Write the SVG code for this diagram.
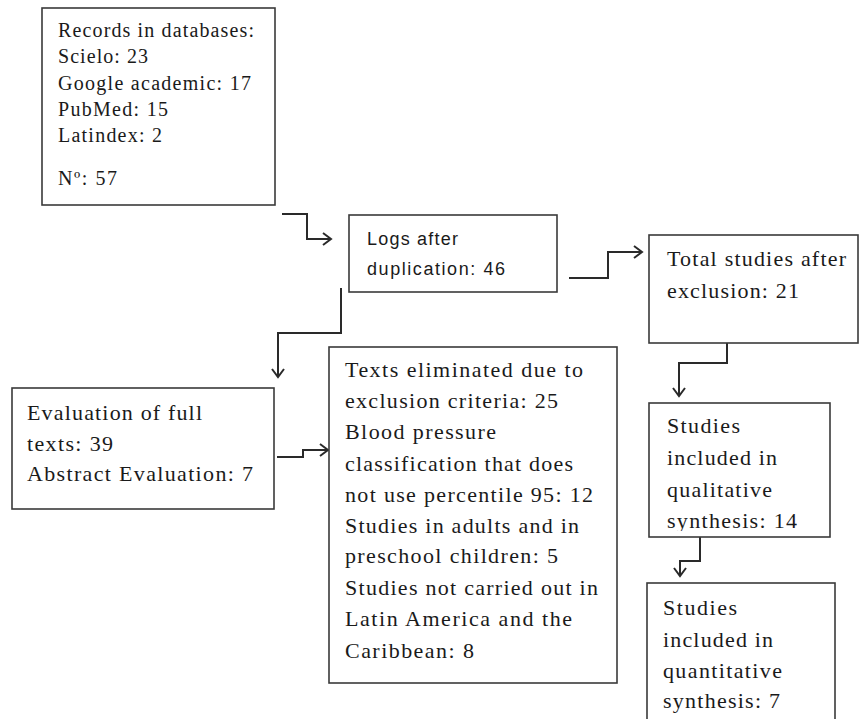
<svg xmlns="http://www.w3.org/2000/svg" width="866" height="719" viewBox="0 0 866 719">
<style>
.box{fill:#fff;stroke:#3a3a3a;stroke-width:1.6}
.c{fill:none;stroke:#2a2a2a;stroke-width:2}
</style>
<defs>
<marker id="arr" markerUnits="userSpaceOnUse" markerWidth="14" markerHeight="16" refX="9" refY="7" orient="auto">
<path d="M1,1 L9,7 L1,13" fill="none" stroke="#2a2a2a" stroke-width="2"/>
</marker>
<clipPath id="clipQ"><rect x="640" y="400" width="200" height="131"/></clipPath>
</defs>
<rect width="866" height="719" fill="#fff"/>
<g id="connectors">
<path class="c" d="M282,214 H307 V239 H331" marker-end="url(#arr)"/>
<path class="c" d="M569,278 H608 V252 H642" marker-end="url(#arr)"/>
<path class="c" d="M341,288 V333 H278 V377" marker-end="url(#arr)"/>
<path class="c" d="M277,457 H303 V450 H328" marker-end="url(#arr)"/>
<path class="c" d="M727,343 V363 H679 V396" marker-end="url(#arr)"/>
<path class="c" d="M700,537 V561 H680 V576" marker-end="url(#arr)"/>
</g>
<g font-family="Liberation Serif, Times New Roman, serif" font-size="22" fill="#1a1a1a" lengthAdjust="spacing">
<g id="records" font-size="20">
<rect class="box" x="42" y="8" width="233" height="197"/>
<text x="58" y="37" textLength="196" lengthAdjust="spacing">Records in databases:</text>
<text x="58" y="63" textLength="90" lengthAdjust="spacing">Scielo: 23</text>
<text x="58" y="90" textLength="193" lengthAdjust="spacing">Google academic: 17</text>
<text x="58" y="116" textLength="110" lengthAdjust="spacing">PubMed: 15</text>
<text x="58" y="142" textLength="104" lengthAdjust="spacing">Latindex: 2</text>
<text x="58" y="185" textLength="59" lengthAdjust="spacing">Nº: 57</text>
</g>
<g id="logs" font-family="Liberation Sans, Arial, sans-serif" font-size="18">
<rect class="box" x="349" y="215" width="208" height="77"/>
<text x="367" y="245" textLength="91" lengthAdjust="spacing">Logs after</text>
<text x="367" y="275" textLength="138" lengthAdjust="spacing">duplication: 46</text>
</g>
<g id="total">
<rect class="box" x="649" y="235" width="209" height="108"/>
<text x="667" y="266" textLength="179" lengthAdjust="spacing">Total studies after</text>
<text x="667" y="298" textLength="132" lengthAdjust="spacing">exclusion: 21</text>
</g>
<g id="evaluation">
<rect class="box" x="12" y="388" width="262" height="121"/>
<text x="27" y="420" textLength="175" lengthAdjust="spacing">Evaluation of full</text>
<text x="27" y="451" textLength="86" lengthAdjust="spacing">texts: 39</text>
<text x="27" y="481" textLength="226" lengthAdjust="spacing">Abstract Evaluation: 7</text>
</g>
<g id="eliminated">
<rect class="box" x="329" y="347" width="288" height="336"/>
<text x="345" y="377" textLength="238" lengthAdjust="spacing">Texts eliminated due to</text>
<text x="345" y="408" textLength="213" lengthAdjust="spacing">exclusion criteria: 25</text>
<text x="345" y="439" textLength="151" lengthAdjust="spacing">Blood pressure</text>
<text x="345" y="471" textLength="228" lengthAdjust="spacing">classification that does</text>
<text x="345" y="502" textLength="248" lengthAdjust="spacing">not use percentile 95: 12</text>
<text x="345" y="533" textLength="234" lengthAdjust="spacing">Studies in adults and in</text>
<text x="345" y="563" textLength="213" lengthAdjust="spacing">preschool children: 5</text>
<text x="345" y="595" textLength="253" lengthAdjust="spacing">Studies not carried out in</text>
<text x="345" y="626" textLength="227" lengthAdjust="spacing">Latin America and the</text>
<text x="345" y="658" textLength="129" lengthAdjust="spacing">Caribbean: 8</text>
</g>
<g id="qualitative">
<rect class="box" x="649" y="403" width="181" height="134"/>
<g clip-path="url(#clipQ)">
<text x="667" y="433" textLength="73" lengthAdjust="spacing">Studies</text>
<text x="667" y="465" textLength="110" lengthAdjust="spacing">included in</text>
<text x="667" y="497" textLength="105" lengthAdjust="spacing">qualitative</text>
<text x="667" y="528" textLength="130" lengthAdjust="spacing">synthesis: 14</text>
</g>
</g>
<g id="quantitative">
<rect class="box" x="647" y="583" width="188" height="150"/>
<text x="663" y="615" textLength="74" lengthAdjust="spacing">Studies</text>
<text x="663" y="647" textLength="110" lengthAdjust="spacing">included in</text>
<text x="663" y="678" textLength="119" lengthAdjust="spacing">quantitative</text>
<text x="663" y="708" textLength="117" lengthAdjust="spacing">synthesis: 7</text>
</g>
</g>
</svg>
